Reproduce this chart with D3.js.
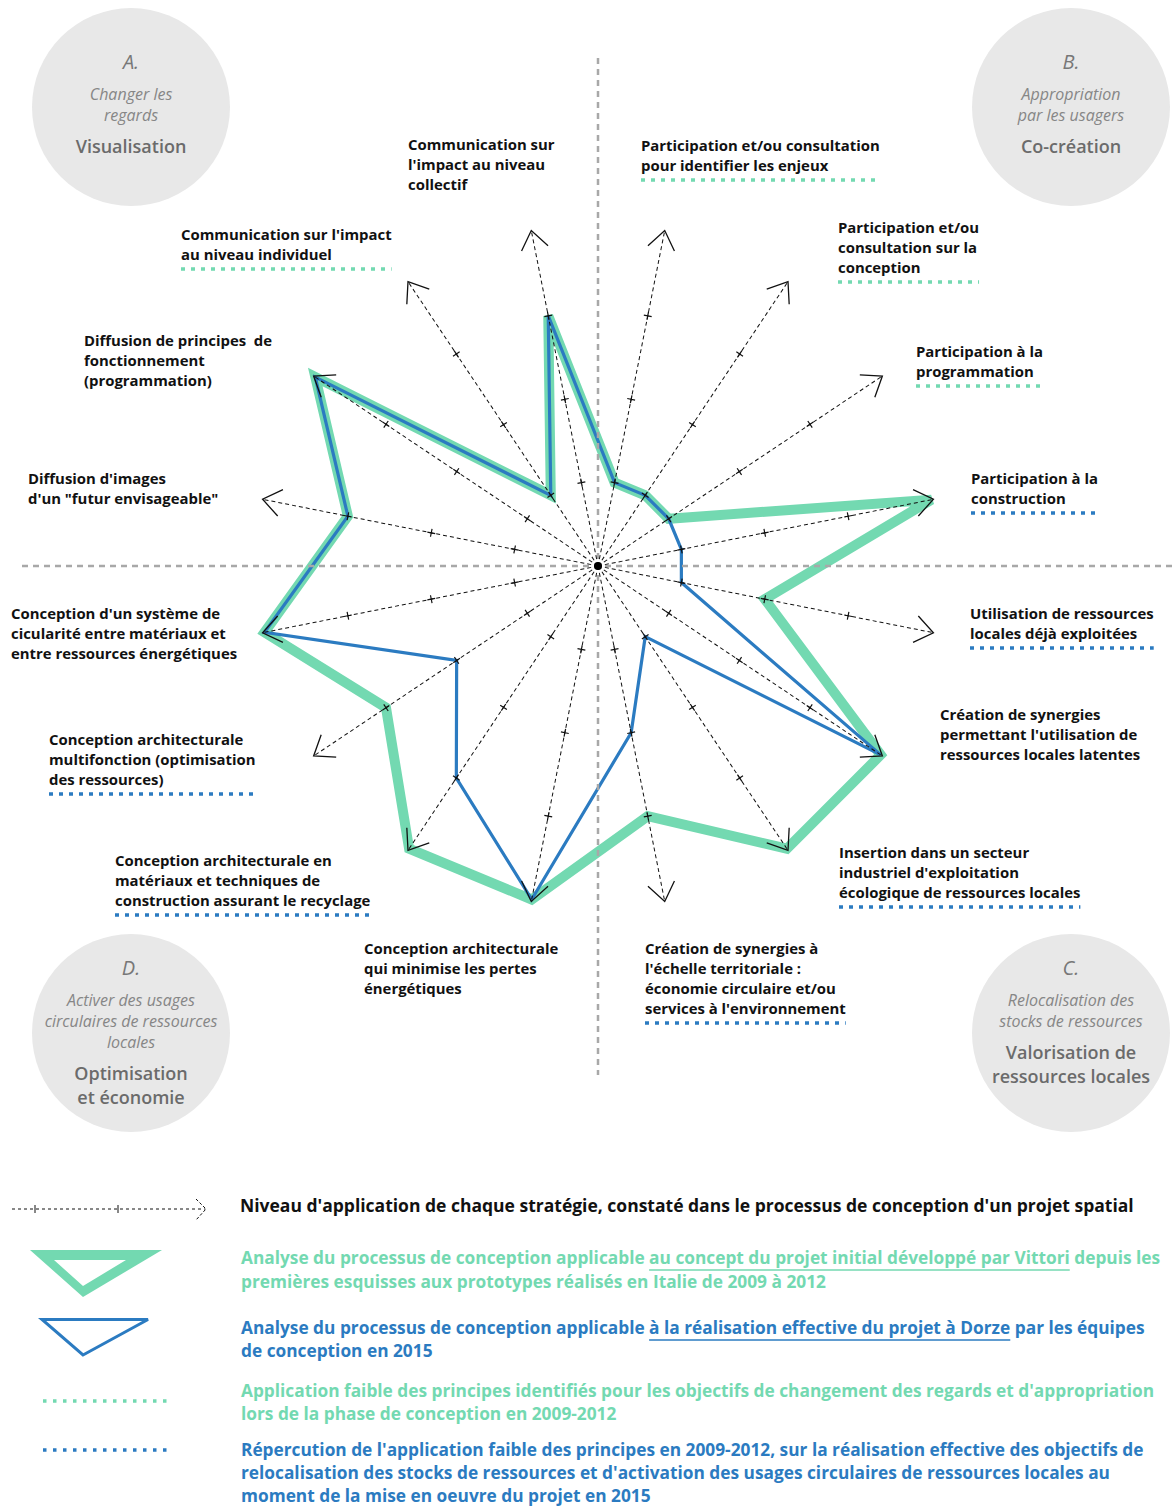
<!DOCTYPE html>
<html>
<head>
<meta charset="utf-8">
<script src="https://cdn.jsdelivr.net/npm/d3@7"></script>
<style>
  body { margin: 0; background: #fff; }
  svg { display: block; font-family: "Open Sans", Lato, sans-serif; }
</style>
</head>
<body>
<div id="chart"></div>
<script>
// Strategies, clockwise from the top ("|" = line break in the label)
const strategies = [
  "Participation et/ou consultation|pour identifier les enjeux",
  "Participation et/ou|consultation sur la|conception",
  "Participation à la|programmation",
  "Participation à la|construction",
  "Utilisation de ressources|locales déjà exploitées",
  "Création de synergies|permettant l'utilisation de|ressources locales latentes",
  "Insertion dans un secteur|industriel d'exploitation|écologique de ressources locales",
  "Création de synergies à|l'échelle territoriale :|économie circulaire et/ou|services à l'environnement",
  "Conception architecturale|qui minimise les pertes|énergétiques",
  "Conception architecturale en|matériaux et techniques de|construction assurant le recyclage",
  "Conception architecturale|multifonction (optimisation|des ressources)",
  "Conception d'un système de|cicularité entre matériaux et|entre ressources énergétiques",
  "Diffusion d'images|d'un \"futur envisageable\"",
  "Diffusion de principes  de|fonctionnement|(programmation)",
  "Communication sur l'impact|au niveau individuel",
  "Communication sur|l'impact au niveau|collectif"
];

// Level of application (0..4) for each strategy
const concept2012 = [1, 1, 1, 4, 2, 4, 4, 3, 4, 4, 3, 4, 3, 4, 1, 3];
const dorze2015   = [1, 1, 1, 1, 1, 4, 1, 2, 4, 3, 2, 4, 3, 4, 1, 3];

// Weak application flag: "g" = 2009-2012 (green), "b" = 2015 repercussion (blue)
const weakFlag = ["g", "g", "g", "b", "b", null, "b", "b", null, "b", "b", null, null, null, "g", null];

const levelTicks = [1, 2, 3];
const maxLevel = 4;

// Quadrant bubbles
const quadLetters = ["A.", "B.", "C.", "D."];
const quadAims = [
  ["Changer les", "regards"],
  ["Appropriation", "par les usagers"],
  ["Relocalisation des", "stocks de ressources"],
  ["Activer des usages", "circulaires de ressources", "locales"]
];
const quadNames = [
  ["Visualisation"],
  ["Co-création"],
  ["Valorisation de", "ressources locales"],
  ["Optimisation", "et économie"]
];

// Legend
const legendTitle = "Niveau d'application de chaque stratégie, constaté dans le processus de conception d'un projet spatial";
const legendGreen = [
  ["Analyse du processus de conception applicable ", "au concept du projet initial développé par Vittori", " depuis les"],
  ["premières esquisses aux prototypes réalisés en Italie de 2009 à 2012"]
];
const legendBlue = [
  ["Analyse du processus de conception applicable ", "à la réalisation effective du projet à Dorze", " par les équipes"],
  ["de conception en 2015"]
];
const legendWeakGreen = [
  "Application faible des principes identifiés pour les objectifs de changement des regards et d'appropriation",
  "lors de la phase de conception en 2009-2012"
];
const legendWeakBlue = [
  "Répercution de l'application faible des principes en 2009-2012, sur la réalisation effective des objectifs de",
  "relocalisation des stocks de ressources et d'activation des usages circulaires de ressources locales au",
  "moment de la mise en oeuvre du projet en 2015"
];

const GREEN = "#73d9b1", BLUE = "#2b7bc1";
const W = 1173, H = 1507;
const cx = 598, cy = 566;

const svg = d3.select("#chart").append("svg")
  .attr("width", W).attr("height", H);

// Scales
const r = d3.scaleLinear().domain([0, maxLevel]).range([0, 340]);
const angle = d3.scaleLinear().domain([0, strategies.length]).range([0, 2 * Math.PI]);
const ang = i => angle(i + 0.5);

// Quadrant bubbles
const quadPos = [[131, 107], [1071, 107], [1071, 1033], [131, 1033]];
const quadLetterY = [-38, -38, -58, -58];
quadPos.forEach((p, q) => {
  const g = svg.append("g").attr("transform", `translate(${p[0]},${p[1]})`);
  g.append("circle").attr("r", 99).attr("fill", "#e8e8e8");
  const y0 = quadLetterY[q];
  g.append("text").attr("y", y0).attr("text-anchor", "middle")
    .style("font-style", "italic").style("font-size", "20px").attr("fill", "#777")
    .text(quadLetters[q]);
  const aimY = y0 + 31;
  quadAims[q].forEach((t, k) => {
    g.append("text").attr("y", aimY + k * 21).attr("text-anchor", "middle")
      .style("font-style", "italic").style("font-size", "16px").attr("fill", "#868686")
      .text(t);
  });
  const nameY = aimY + (quadAims[q].length - 1) * 21 + 32;
  quadNames[q].forEach((t, k) => {
    g.append("text").attr("y", nameY + k * 23.5).attr("text-anchor", "middle")
      .style("font-weight", "600").style("font-size", "18px").attr("fill", "#6b6b6b")
      .text(t);
  });
});

// Polygons
const radial = d3.lineRadial()
  .angle((d, i) => ang(i))
  .radius(d => r(d))
  .curve(d3.curveLinearClosed);

const plot = svg.append("g").attr("transform", `translate(${cx},${cy})`);
plot.append("path").attr("d", radial(concept2012))
  .attr("fill", "none").attr("stroke", GREEN).attr("stroke-width", 10)
  .attr("stroke-linejoin", "miter");
plot.append("path").attr("d", radial(dorze2015))
  .attr("fill", "none").attr("stroke", BLUE).attr("stroke-width", 3.2)
  .attr("stroke-linejoin", "miter");

// Grey quadrant separators
svg.append("line").attr("x1", cx).attr("x2", cx).attr("y1", 58).attr("y2", 1075)
  .attr("stroke", "#a8a8a8").attr("stroke-width", 2.5).attr("stroke-dasharray", "6,5");
svg.append("line").attr("x1", 22).attr("x2", W).attr("y1", cy).attr("y2", cy)
  .attr("stroke", "#a8a8a8").attr("stroke-width", 2.5).attr("stroke-dasharray", "6,5");

// Axes with ticks and open arrowheads
const axes = svg.append("g").selectAll("g").data(strategies).join("g")
  .attr("transform", (d, i) => `translate(${cx},${cy}) rotate(${ang(i) * 180 / Math.PI})`);
axes.append("line").attr("x1", 0).attr("y1", 0).attr("x2", 0).attr("y2", -r(maxLevel))
  .attr("stroke", "#111").attr("stroke-width", 1).attr("stroke-dasharray", "4,3");
axes.selectAll(".tick").data(levelTicks).join("path").attr("class", "tick")
  .attr("d", v => `M-4,${-r(v)}H4M0,${-r(v) - 4}V${-r(v) + 4}`)
  .attr("stroke", "#111").attr("stroke-width", 1.2);
const ah = 21, aa = 40 * Math.PI / 180;
axes.append("path")
  .attr("d", `M${-ah * Math.sin(aa)},${-r(maxLevel) + ah * Math.cos(aa)}L0,${-r(maxLevel) - 2}L${ah * Math.sin(aa)},${-r(maxLevel) + ah * Math.cos(aa)}`)
  .attr("fill", "none").attr("stroke", "#111").attr("stroke-width", 1.3);

svg.append("circle").attr("cx", cx).attr("cy", cy).attr("r", 4).attr("fill", "#000");

// Strategy labels (x, first baseline)
const labelPos = [
  [641, 151], [838, 233], [916, 357], [971, 484], [970, 619], [940, 720],
  [839, 858], [645, 954], [364, 954], [115, 866], [49, 745], [11, 619],
  [28, 484], [84, 346], [181, 240], [408, 150]
];
const lineH = 20;
strategies.forEach((s, i) => {
  const lines = s.split("|");
  const t = svg.append("text")
    .style("font-weight", "bold").style("font-size", "14.9px").attr("fill", "#111");
  lines.forEach((l, k) => {
    t.append("tspan").attr("x", labelPos[i][0]).attr("y", labelPos[i][1] + k * lineH)
      .style("white-space", "pre").text(l);
  });
  if (weakFlag[i]) {
    const w = d3.max(t.selectAll("tspan").nodes(), n => n.getComputedTextLength());
    const y = labelPos[i][1] + (lines.length - 1) * lineH + 9;
    svg.append("line").attr("x1", labelPos[i][0]).attr("x2", labelPos[i][0] + w)
      .attr("y1", y).attr("y2", y)
      .attr("stroke", weakFlag[i] === "g" ? GREEN : BLUE)
      .attr("stroke-width", 3.5).attr("stroke-dasharray", "4,6");
  }
});

// Legend
const lg = svg.append("g");
// dashed arrow sample
lg.append("line").attr("x1", 12).attr("x2", 205).attr("y1", 1209).attr("y2", 1209)
  .attr("stroke", "#111").attr("stroke-width", 1).attr("stroke-dasharray", "3,3");
[35, 118].forEach(x => lg.append("line").attr("x1", x).attr("x2", x).attr("y1", 1205).attr("y2", 1213)
  .attr("stroke", "#111").attr("stroke-width", 1));
lg.append("path").attr("d", "M196,1199L206,1209L196,1220").attr("fill", "none")
  .attr("stroke", "#111").attr("stroke-width", 1).attr("stroke-dasharray", "3,2");
lg.append("text").attr("x", 240).attr("y", 1212)
  .style("font-weight", "bold").style("font-size", "17.5px").attr("fill", "#111")
  .text(legendTitle);

// triangles
lg.append("path")
  .attr("d", "M30,1250L162,1250L83,1297ZM54,1260L83,1286L126,1260Z")
  .attr("fill", GREEN).attr("fill-rule", "evenodd");
lg.append("path").attr("d", "M42,1319.5L148,1319.5L83,1355Z").attr("fill", "none")
  .attr("stroke", BLUE).attr("stroke-width", 3).attr("stroke-linejoin", "miter");

function richText(lines, y0, step, color) {
  lines.forEach((parts, k) => {
    const t = lg.append("text").attr("x", 241).attr("y", y0 + k * step)
      .style("font-weight", "bold").style("font-size", "17.3px").attr("fill", color)
      .style("white-space", "pre");
    parts.forEach(p => t.append("tspan").text(p));
    if (parts.length > 1) {
      const node = t.node();
      const start = parts[0].length, len = parts[1].length;
      const x0 = node.getStartPositionOfChar(start).x;
      const w = node.getSubStringLength(start, len);
      lg.append("line").attr("x1", x0).attr("x2", x0 + w)
        .attr("y1", y0 + k * step + 6).attr("y2", y0 + k * step + 6)
        .attr("stroke", color).attr("stroke-width", 1.3);
    }
  });
}
richText(legendGreen, 1264, 24, GREEN);
richText(legendBlue, 1334, 23, BLUE);
richText(legendWeakGreen.map(l => [l]), 1397, 23, GREEN);
richText(legendWeakBlue.map(l => [l]), 1456, 23, BLUE);

lg.append("line").attr("x1", 43).attr("x2", 170).attr("y1", 1401).attr("y2", 1401)
  .attr("stroke", GREEN).attr("stroke-width", 3.5).attr("stroke-dasharray", "3.5,6.5");
lg.append("line").attr("x1", 43).attr("x2", 170).attr("y1", 1450).attr("y2", 1450)
  .attr("stroke", BLUE).attr("stroke-width", 3.5).attr("stroke-dasharray", "3.5,6.5");
</script>
</body>
</html>
